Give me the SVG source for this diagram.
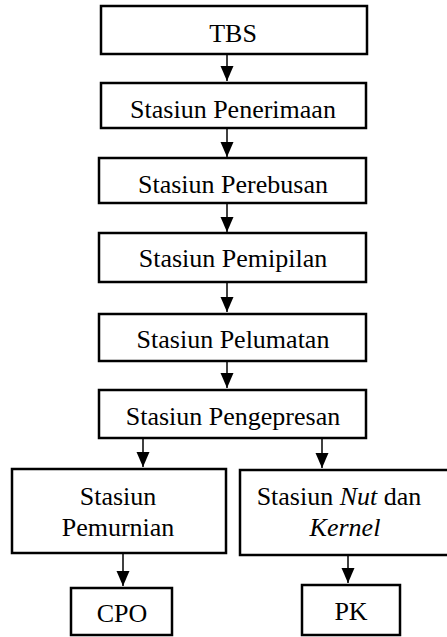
<svg xmlns="http://www.w3.org/2000/svg" width="447" height="637" viewBox="0 0 447 637">
<style>
.box{fill:#fff;stroke:#000;stroke-width:2.5}
.t{font-family:"Liberation Serif","Times New Roman",serif;font-size:26px;fill:#000;text-anchor:middle}
.c{stroke:#000;stroke-width:1.5;fill:none;marker-end:url(#ah)}
</style>
<defs>
<marker id="ah" markerUnits="userSpaceOnUse" markerWidth="15" markerHeight="14" refX="15" refY="7" orient="auto">
<path d="M0,0.5 L15,7 L0,13.5 z" fill="#000"/>
</marker>
</defs>
<rect width="447" height="637" fill="#fff"/>
<g id="connectors">
<line class="c" x1="227" y1="55" x2="227" y2="81"/>
<line class="c" x1="227" y1="128" x2="227" y2="157"/>
<line class="c" x1="227" y1="203" x2="227" y2="232"/>
<line class="c" x1="227" y1="282" x2="227" y2="312"/>
<line class="c" x1="227" y1="361" x2="227" y2="388"/>
<line class="c" x1="143" y1="438" x2="143" y2="467"/>
<line class="c" x1="322" y1="438" x2="322" y2="468"/>
<line class="c" x1="123" y1="553" x2="123" y2="586"/>
<line class="c" x1="348" y1="555" x2="348" y2="583"/>
</g>
<g id="tbs"><rect class="box" x="101" y="6" width="266" height="48"/><text class="t" x="233" y="42">TBS</text></g>
<g id="penerimaan"><rect class="box" x="101" y="83" width="265" height="45"/><text class="t" x="233" y="118">Stasiun Penerimaan</text></g>
<g id="perebusan"><rect class="box" x="99" y="158" width="267" height="45"/><text class="t" x="233" y="193">Stasiun Perebusan</text></g>
<g id="pemipilan"><rect class="box" x="99" y="233" width="267" height="49"/><text class="t" x="233" y="267">Stasiun Pemipilan</text></g>
<g id="pelumatan"><rect class="box" x="99" y="314" width="267" height="47"/><text class="t" x="233" y="348">Stasiun Pelumatan</text></g>
<g id="pengepresan"><rect class="box" x="99" y="390" width="267" height="48"/><text class="t" x="233" y="425">Stasiun Pengepresan</text></g>
<g id="pemurnian"><rect class="box" x="12" y="469" width="214" height="84"/><text class="t" x="118" y="505">Stasiun</text><text class="t" x="118" y="536">Pemurnian</text></g>
<g id="nutkernel"><rect class="box" x="240" y="470" width="210" height="85"/><text class="t" x="339" y="505">Stasiun <tspan font-style="italic">Nut</tspan> dan</text><text class="t" x="345" y="536" font-style="italic">Kernel</text></g>
<g id="cpo"><rect class="box" x="71" y="588" width="101" height="47"/><text class="t" x="122" y="622">CPO</text></g>
<g id="pk"><rect class="box" x="302" y="585" width="98" height="50"/><text class="t" x="351" y="620">PK</text></g>
</svg>
